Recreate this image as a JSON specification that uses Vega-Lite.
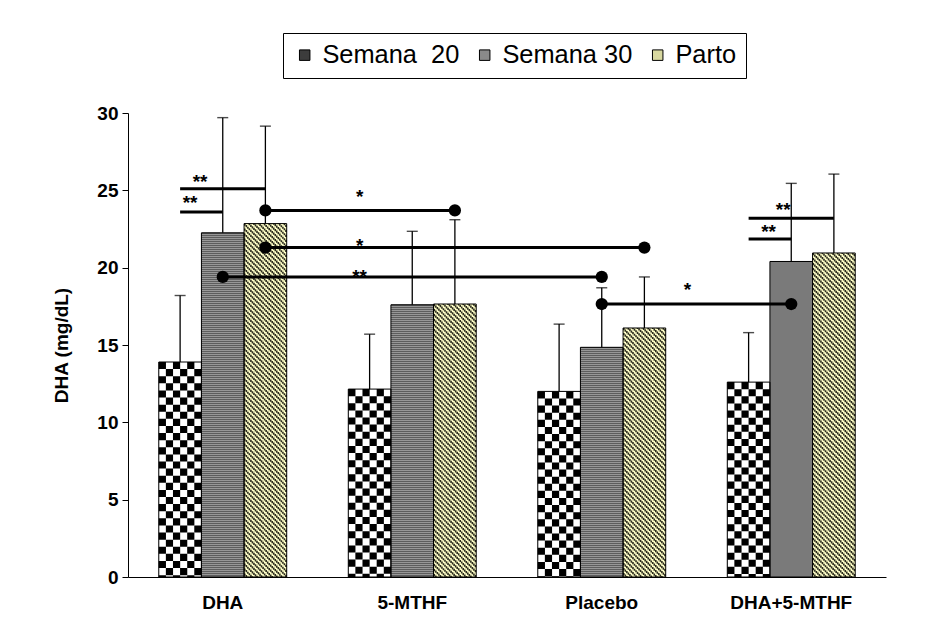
{
 "$schema": "https://vega.github.io/schema/vega-lite/v6.json",
 "width": 758, "height": 464,
 "autosize": {"type": "none"},
 "padding": {"left": 128, "top": 113, "right": 59, "bottom": 41},
 "config": {
  "view": {"stroke": null},
  "font": "Liberation Sans",
  "axis": {"grid": false, "domainColor": "black", "tickColor": "black", "labelColor": "black", "titleColor": "black", "labelFont": "Liberation Sans", "titleFont": "Liberation Sans", "labelFontWeight": "bold", "titleFontWeight": "bold", "labelFontSize": 19, "titleFontSize": 19}
 },
 "datasets": {
  "bars": [
   {"Grupo": "DHA", "Semana": "Semana 20", "value": 13.9, "upper": 18.2},
   {"Grupo": "DHA", "Semana": "Semana 30", "value": 22.25, "upper": 29.7},
   {"Grupo": "DHA", "Semana": "Parto", "value": 22.85, "upper": 29.15},
   {"Grupo": "5-MTHF", "Semana": "Semana 20", "value": 12.15, "upper": 15.7},
   {"Grupo": "5-MTHF", "Semana": "Semana 30", "value": 17.6, "upper": 22.35},
   {"Grupo": "5-MTHF", "Semana": "Parto", "value": 17.65, "upper": 23.1},
   {"Grupo": "Placebo", "Semana": "Semana 20", "value": 12.0, "upper": 16.35},
   {"Grupo": "Placebo", "Semana": "Semana 30", "value": 14.85, "upper": 18.7},
   {"Grupo": "Placebo", "Semana": "Parto", "value": 16.1, "upper": 19.4},
   {"Grupo": "DHA+5-MTHF", "Semana": "Semana 20", "value": 12.6, "upper": 15.8},
   {"Grupo": "DHA+5-MTHF", "Semana": "Semana 30", "value": 20.4, "upper": 25.45},
   {"Grupo": "DHA+5-MTHF", "Semana": "Parto", "value": 20.95, "upper": 26.05}
  ],
  "lines": [
   {"id": "A", "Grupo": "DHA", "Semana": "Parto", "value": 23.7},
   {"id": "A", "Grupo": "5-MTHF", "Semana": "Parto", "value": 23.7},
   {"id": "B", "Grupo": "DHA", "Semana": "Parto", "value": 21.3},
   {"id": "B", "Grupo": "Placebo", "Semana": "Parto", "value": 21.3},
   {"id": "C", "Grupo": "DHA", "Semana": "Semana 30", "value": 19.4},
   {"id": "C", "Grupo": "Placebo", "Semana": "Semana 30", "value": 19.4},
   {"id": "D", "Grupo": "Placebo", "Semana": "Semana 30", "value": 17.65},
   {"id": "D", "Grupo": "DHA+5-MTHF", "Semana": "Semana 30", "value": 17.65},
   {"id": "E", "Grupo": "DHA", "Semana": "Semana 20", "value": 25.1},
   {"id": "E", "Grupo": "DHA", "Semana": "Parto", "value": 25.1},
   {"id": "F", "Grupo": "DHA", "Semana": "Semana 20", "value": 23.6},
   {"id": "F", "Grupo": "DHA", "Semana": "Semana 30", "value": 23.6},
   {"id": "G", "Grupo": "DHA+5-MTHF", "Semana": "Semana 20", "value": 23.2},
   {"id": "G", "Grupo": "DHA+5-MTHF", "Semana": "Parto", "value": 23.2},
   {"id": "H", "Grupo": "DHA+5-MTHF", "Semana": "Semana 20", "value": 21.85},
   {"id": "H", "Grupo": "DHA+5-MTHF", "Semana": "Semana 30", "value": 21.85}
  ],
  "stars": [
   {"id": "A", "Grupo": "5-MTHF", "Semana": "Semana 20", "value": 24.55, "label": "*"},
   {"id": "B", "Grupo": "5-MTHF", "Semana": "Semana 20", "value": 21.4, "label": "*"},
   {"id": "C", "Grupo": "5-MTHF", "Semana": "Semana 20", "value": 19.4, "label": "**"},
   {"id": "D", "Grupo": "Placebo", "Semana": "Parto", "value": 18.55, "label": "*"},
   {"id": "E", "Grupo": "DHA", "Semana": "Semana 20", "value": 25.55, "label": "**"},
   {"id": "F", "Grupo": "DHA", "Semana": "Semana 20", "value": 24.2, "label": "**"},
   {"id": "G", "Grupo": "DHA+5-MTHF", "Semana": "Semana 30", "value": 23.7, "label": "**"},
   {"id": "H", "Grupo": "DHA+5-MTHF", "Semana": "Semana 20", "value": 22.3, "label": "**"}
  ]
 },
 "encoding": {
  "x": {"field": "Grupo", "type": "nominal", "sort": ["DHA", "5-MTHF", "Placebo", "DHA+5-MTHF"],
   "scale": {"domain": ["DHA", "5-MTHF", "Placebo", "DHA+5-MTHF"], "paddingInner": 0.325, "paddingOuter": 0.1625},
   "axis": {"title": null, "labelAngle": 0, "ticks": false, "labelPadding": 16, "domainWidth": 1}},
  "y": {"field": "value", "type": "quantitative", "title": "DHA (mg/dL)",
   "scale": {"domain": [0, 30], "nice": false},
   "axis": {"values": [0, 5, 10, 15, 20, 25, 30], "tickSize": 6, "labelPadding": 4, "titlePadding": 25, "domainWidth": 1}}
 },
 "layer": [
  {
   "data": {"name": "bars"},
   "mark": {"type": "bar", "strokeWidth": 0},
   "encoding": {
    "xOffset": {"field": "Semana", "type": "nominal", "sort": ["Semana 20", "Semana 30", "Parto"], "scale": {"domain": ["Semana 20", "Semana 30", "Parto"], "paddingInner": 0, "paddingOuter": 0}},
    "color": {"field": "Semana", "type": "nominal", "sort": ["Semana 20", "Semana 30", "Parto"],
     "scale": {"domain": ["Semana 20", "Semana 30", "Parto"], "range": ["#3c3c3c", "#8a8a8a", "#d8d8a0"]},
     "legend": {"title": null, "orient": "none", "legendX": 155, "legendY": -80, "direction": "horizontal",
      "strokeColor": "black", "fillColor": "white", "padding": 9, "labelFontSize": 25.4, "labelFont": "Liberation Sans", "labelColor": "black",
      "labelExpr": "datum.label == 'Semana 20' ? 'Semana\u00a0 20' : datum.label",
      "symbolType": "square", "symbolSize": 110, "symbolStrokeColor": "black", "symbolStrokeWidth": 1, "columnPadding": 12, "labelOffset": 5}}
   }
  },
  {
   "data": {"name": "bars"},
   "mark": {"type": "bar", "strokeWidth": 0},
   "encoding": {
    "xOffset": {"field": "Semana", "type": "nominal", "sort": ["Semana 20", "Semana 30", "Parto"]},
    "fill": {"condition": [{"test": "datum.Semana == 'Semana 20'", "value": "#ffffff"}, {"test": "datum.Semana == 'Semana 30'", "value": "#b4b4b4"}], "value": "#ffffc8"}
   }
  },
  {
   "data": {"name": "bars"},
   "transform": [{"filter": "datum.Semana == 'Semana 20'"}],
   "encoding": {"y2": {"datum": 0}},
   "layer": [
    {"mark": {"type": "rule", "color": "black", "xOffset": -60.39, "strokeWidth": 7.2, "strokeDash": [7.105, 7.105], "strokeDashOffset": 0}},
    {"mark": {"type": "rule", "color": "black", "xOffset": -53.29, "strokeWidth": 7.2, "strokeDash": [7.105, 7.105], "strokeDashOffset": 7.105}},
    {"mark": {"type": "rule", "color": "black", "xOffset": -46.18, "strokeWidth": 7.2, "strokeDash": [7.105, 7.105], "strokeDashOffset": 0}},
    {"mark": {"type": "rule", "color": "black", "xOffset": -39.08, "strokeWidth": 7.2, "strokeDash": [7.105, 7.105], "strokeDashOffset": 7.105}},
    {"mark": {"type": "rule", "color": "black", "xOffset": -31.97, "strokeWidth": 7.2, "strokeDash": [7.105, 7.105], "strokeDashOffset": 0}},
    {"mark": {"type": "rule", "color": "black", "xOffset": -24.87, "strokeWidth": 7.2, "strokeDash": [7.105, 7.105], "strokeDashOffset": 7.105}}
   ]
  },
  {
   "data": {"name": "bars"},
   "transform": [{"filter": "datum.Semana == 'Semana 30'"}],
   "mark": {"type": "rule", "color": "#404040", "strokeWidth": 42.6, "strokeDash": [1, 1]},
   "encoding": {"y2": {"datum": 0}}
  },
  {
   "data": {"name": "bars"},
   "transform": [{"filter": "datum.Semana == 'Parto'"}],
   "encoding": {"y2": {"datum": 0}},
   "layer": [
    {"mark": {"type": "rule", "color": "#2a2a1c", "strokeWidth": 1.6, "strokeDash": [2.2, 2.8], "xOffset": 22.08, "strokeDashOffset": 50}},
    {"mark": {"type": "rule", "color": "#2a2a1c", "strokeWidth": 1.6, "strokeDash": [2.2, 2.8], "xOffset": 23.60, "strokeDashOffset": 48.48}},
    {"mark": {"type": "rule", "color": "#2a2a1c", "strokeWidth": 1.6, "strokeDash": [2.2, 2.8], "xOffset": 25.12, "strokeDashOffset": 46.96}},
    {"mark": {"type": "rule", "color": "#2a2a1c", "strokeWidth": 1.6, "strokeDash": [2.2, 2.8], "xOffset": 26.64, "strokeDashOffset": 45.43}},
    {"mark": {"type": "rule", "color": "#2a2a1c", "strokeWidth": 1.6, "strokeDash": [2.2, 2.8], "xOffset": 28.17, "strokeDashOffset": 43.91}},
    {"mark": {"type": "rule", "color": "#2a2a1c", "strokeWidth": 1.6, "strokeDash": [2.2, 2.8], "xOffset": 29.69, "strokeDashOffset": 42.39}},
    {"mark": {"type": "rule", "color": "#2a2a1c", "strokeWidth": 1.6, "strokeDash": [2.2, 2.8], "xOffset": 31.21, "strokeDashOffset": 40.87}},
    {"mark": {"type": "rule", "color": "#2a2a1c", "strokeWidth": 1.6, "strokeDash": [2.2, 2.8], "xOffset": 32.73, "strokeDashOffset": 39.34}},
    {"mark": {"type": "rule", "color": "#2a2a1c", "strokeWidth": 1.6, "strokeDash": [2.2, 2.8], "xOffset": 34.26, "strokeDashOffset": 37.82}},
    {"mark": {"type": "rule", "color": "#2a2a1c", "strokeWidth": 1.6, "strokeDash": [2.2, 2.8], "xOffset": 35.78, "strokeDashOffset": 36.30}},
    {"mark": {"type": "rule", "color": "#2a2a1c", "strokeWidth": 1.6, "strokeDash": [2.2, 2.8], "xOffset": 37.30, "strokeDashOffset": 34.78}},
    {"mark": {"type": "rule", "color": "#2a2a1c", "strokeWidth": 1.6, "strokeDash": [2.2, 2.8], "xOffset": 38.82, "strokeDashOffset": 33.25}},
    {"mark": {"type": "rule", "color": "#2a2a1c", "strokeWidth": 1.6, "strokeDash": [2.2, 2.8], "xOffset": 40.35, "strokeDashOffset": 31.73}},
    {"mark": {"type": "rule", "color": "#2a2a1c", "strokeWidth": 1.6, "strokeDash": [2.2, 2.8], "xOffset": 41.87, "strokeDashOffset": 30.21}},
    {"mark": {"type": "rule", "color": "#2a2a1c", "strokeWidth": 1.6, "strokeDash": [2.2, 2.8], "xOffset": 43.39, "strokeDashOffset": 28.69}},
    {"mark": {"type": "rule", "color": "#2a2a1c", "strokeWidth": 1.6, "strokeDash": [2.2, 2.8], "xOffset": 44.91, "strokeDashOffset": 27.16}},
    {"mark": {"type": "rule", "color": "#2a2a1c", "strokeWidth": 1.6, "strokeDash": [2.2, 2.8], "xOffset": 46.44, "strokeDashOffset": 25.64}},
    {"mark": {"type": "rule", "color": "#2a2a1c", "strokeWidth": 1.6, "strokeDash": [2.2, 2.8], "xOffset": 47.96, "strokeDashOffset": 24.12}},
    {"mark": {"type": "rule", "color": "#2a2a1c", "strokeWidth": 1.6, "strokeDash": [2.2, 2.8], "xOffset": 49.48, "strokeDashOffset": 22.60}},
    {"mark": {"type": "rule", "color": "#2a2a1c", "strokeWidth": 1.6, "strokeDash": [2.2, 2.8], "xOffset": 51.00, "strokeDashOffset": 21.07}},
    {"mark": {"type": "rule", "color": "#2a2a1c", "strokeWidth": 1.6, "strokeDash": [2.2, 2.8], "xOffset": 52.53, "strokeDashOffset": 19.55}},
    {"mark": {"type": "rule", "color": "#2a2a1c", "strokeWidth": 1.6, "strokeDash": [2.2, 2.8], "xOffset": 54.05, "strokeDashOffset": 18.03}},
    {"mark": {"type": "rule", "color": "#2a2a1c", "strokeWidth": 1.6, "strokeDash": [2.2, 2.8], "xOffset": 55.57, "strokeDashOffset": 16.51}},
    {"mark": {"type": "rule", "color": "#2a2a1c", "strokeWidth": 1.6, "strokeDash": [2.2, 2.8], "xOffset": 57.09, "strokeDashOffset": 14.98}},
    {"mark": {"type": "rule", "color": "#2a2a1c", "strokeWidth": 1.6, "strokeDash": [2.2, 2.8], "xOffset": 58.62, "strokeDashOffset": 13.46}},
    {"mark": {"type": "rule", "color": "#2a2a1c", "strokeWidth": 1.6, "strokeDash": [2.2, 2.8], "xOffset": 60.14, "strokeDashOffset": 11.94}},
    {"mark": {"type": "rule", "color": "#2a2a1c", "strokeWidth": 1.6, "strokeDash": [2.2, 2.8], "xOffset": 61.66, "strokeDashOffset": 10.42}},
    {"mark": {"type": "rule", "color": "#2a2a1c", "strokeWidth": 1.6, "strokeDash": [2.2, 2.8], "xOffset": 63.18, "strokeDashOffset": 8.89}}
   ]
  },
  {
   "data": {"name": "bars"},
   "mark": {"type": "bar", "fillOpacity": 0, "stroke": "black", "strokeWidth": 1},
   "encoding": {
    "xOffset": {"field": "Semana", "type": "nominal", "sort": ["Semana 20", "Semana 30", "Parto"]}
   }
  },
  {
   "data": {"name": "bars"},
   "mark": {"type": "rule", "color": "black", "strokeWidth": 1.3},
   "encoding": {
    "xOffset": {"field": "Semana", "type": "nominal", "sort": ["Semana 20", "Semana 30", "Parto"]},
    "y2": {"field": "upper"}
   }
  },
  {
   "data": {"name": "bars"},
   "mark": {"type": "tick", "color": "black", "size": 11, "thickness": 1.4},
   "encoding": {
    "xOffset": {"field": "Semana", "type": "nominal", "sort": ["Semana 20", "Semana 30", "Parto"]},
    "y": {"field": "upper", "type": "quantitative", "title": "DHA (mg/dL)"}
   }
  },
  {
   "data": {"name": "lines"},
   "mark": {"type": "line", "color": "black", "strokeWidth": 3},
   "encoding": {
    "xOffset": {"field": "Semana", "type": "nominal", "sort": ["Semana 20", "Semana 30", "Parto"]},
    "detail": {"field": "id", "type": "nominal"}
   }
  },
  {
   "data": {"name": "lines"},
   "transform": [{"filter": "indexof(['A','B','C','D'], datum.id) >= 0"}],
   "mark": {"type": "circle", "color": "black", "size": 150, "opacity": 1},
   "encoding": {
    "xOffset": {"field": "Semana", "type": "nominal", "sort": ["Semana 20", "Semana 30", "Parto"]}
   }
  },
  {
   "data": {"name": "stars"},
   "encoding": {
    "xOffset": {"field": "Semana", "type": "nominal", "sort": ["Semana 20", "Semana 30", "Parto"]},
    "text": {"field": "label"}
   },
   "layer": [
    {"transform": [{"filter": "indexof(['A','B','C'], datum.id) >= 0"}], "mark": {"type": "text", "fontSize": 19, "fontWeight": "bold", "color": "black", "dx": -10, "baseline": "middle"}},
    {"transform": [{"filter": "datum.id == 'D'"}], "mark": {"type": "text", "fontSize": 19, "fontWeight": "bold", "color": "black", "dx": 43, "baseline": "middle"}},
    {"transform": [{"filter": "indexof(['E','H'], datum.id) >= 0"}], "mark": {"type": "text", "fontSize": 19, "fontWeight": "bold", "color": "black", "dx": 20, "baseline": "middle"}},
    {"transform": [{"filter": "datum.id == 'F'"}], "mark": {"type": "text", "fontSize": 19, "fontWeight": "bold", "color": "black", "dx": 10, "baseline": "middle"}},
    {"transform": [{"filter": "datum.id == 'G'"}], "mark": {"type": "text", "fontSize": 19, "fontWeight": "bold", "color": "black", "dx": -8, "baseline": "middle"}}
   ]
  }
 ]
}
